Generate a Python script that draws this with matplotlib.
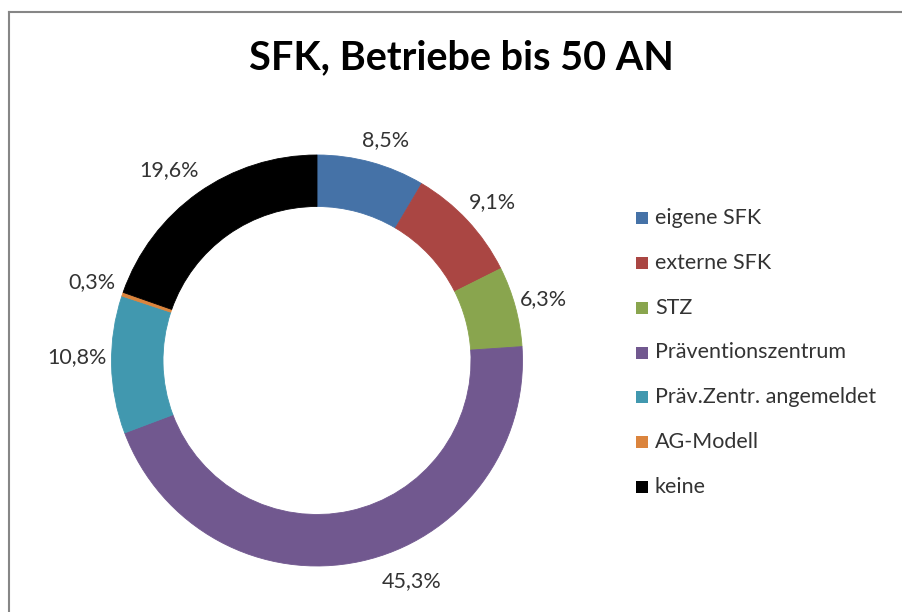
import matplotlib
matplotlib.use("Agg")
import matplotlib.pyplot as plt
from matplotlib.patches import Rectangle
from matplotlib.lines import Line2D
import numpy as np

categories = ["eigene SFK", "externe SFK", "STZ", "Präventionszentrum",
              "Präv.Zentr. angemeldet", "AG-Modell", "keine"]
values = [8.5, 9.1, 6.3, 45.3, 10.8, 0.3, 19.6]
value_labels = ["8,5%", "9,1%", "6,3%", "45,3%", "10,8%", "0,3%", "19,6%"]
colors = ["#4572A7", "#AA4643", "#89A54E", "#71588F", "#4198AF", "#DB843D", "#000000"]
title = "SFK, Betriebe bis 50 AN"

W, H = 903, 612
plt.rcParams['font.family'] = ['Lato', 'DejaVu Sans']
fig = plt.figure(figsize=(W / 100, H / 100), dpi=100)
ax = fig.add_axes([0, 0, 1, 1])

cx, cy = 317, H - 360.5
R = 205.5
ring = 51.5
wedges, _ = ax.pie(values, colors=colors, startangle=90, counterclock=False,
                   radius=R, center=(cx, cy),
                   wedgeprops=dict(width=ring, linewidth=0.6),
                   frame=True)
ax.set_xlim(0, W)
ax.set_ylim(0, H)
ax.set_aspect('equal')
ax.axis('off')
for w in wedges:
    w.set_edgecolor(w.get_facecolor())

# data labels placed around mid-angle (clockwise from top)
label_r = [1.125, 1.15, 1.14, 1.166, 1.17, 1.16, 1.175]
angle_shift = [2, 1, 0, -11, 2, 0.5, -2.5]
total = sum(values)
cum = 0
for i, v in enumerate(values):
    mid = (cum + v / 2) / total * 360 + angle_shift[i]
    cum += v
    th = np.deg2rad(mid)
    x = cx + label_r[i] * R * np.sin(th)
    y = cy + label_r[i] * R * np.cos(th)
    ax.text(x, y, value_labels[i], ha='center', va='center', fontsize=15.5,
            color='#333333')

# title
fig.text(461.5 / W, 1 - 58 / H, title, ha='center', va='center',
         fontsize=28.5, fontweight='bold', color='black')

# legend
ys = np.linspace(218, 487, len(categories))
for i, cat in enumerate(categories):
    y = H - ys[i]
    ax.add_patch(Rectangle((636, y - 6), 12, 12, facecolor=colors[i],
                           edgecolor='none'))
    ax.text(655, y, cat, ha='left', va='center', fontsize=15.5, color='#333333')

# chart border
fig.add_artist(Line2D([9 / W, 9 / W], [0, 1 - 12 / H], transform=fig.transFigure,
                      color='#868686', linewidth=1.5))
fig.add_artist(Line2D([9 / W, 1], [1 - 12 / H, 1 - 12 / H], transform=fig.transFigure,
                      color='#868686', linewidth=1.5))

fig.savefig("out.png", dpi=100, facecolor='white')
